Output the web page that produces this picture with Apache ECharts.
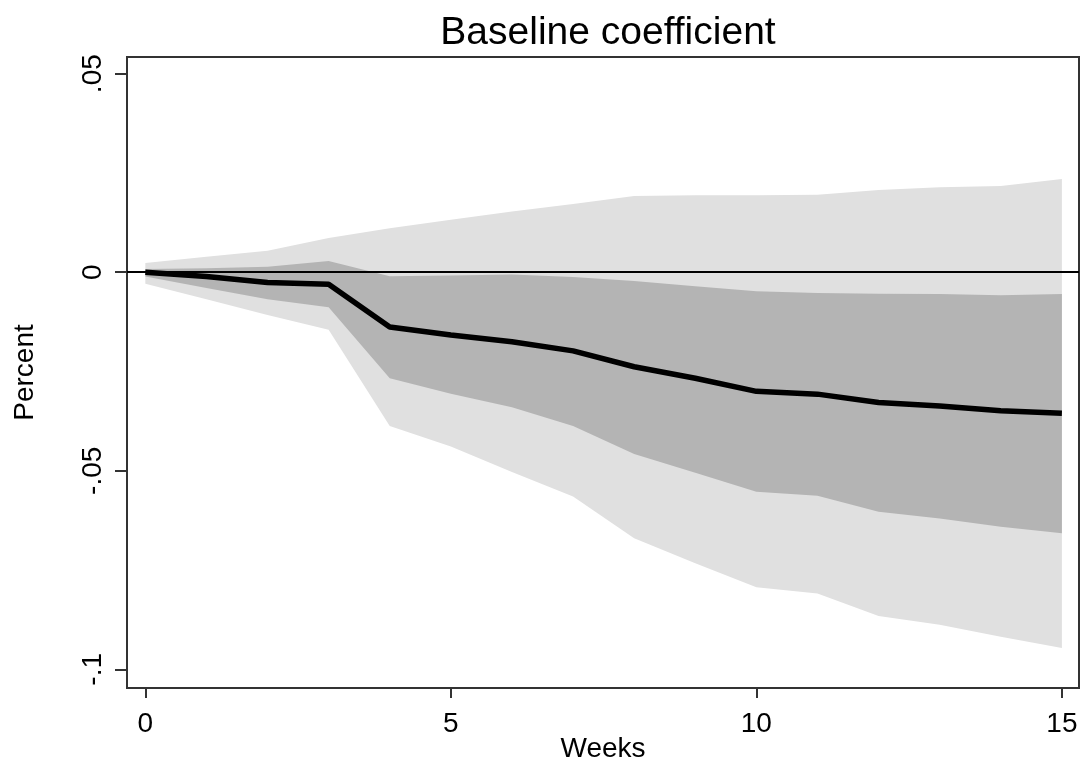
<!DOCTYPE html>
<html>
<head>
<meta charset="utf-8">
<title>Baseline coefficient</title>
<script src="https://cdn.jsdelivr.net/npm/echarts@6/dist/echarts.min.js"></script>
<style>
	html, body { margin: 0; padding: 0; background: #fff; }
	#my_echarts { width: 1083px; height: 765px; }
</style>
</head>
<body>
<div id="my_echarts"></div>
<script>
// 数据
var weeks = [0, 1, 2, 3, 4, 5, 6, 7, 8, 9, 10, 11, 12, 13, 14, 15];
var coef = [0, -0.0011, -0.0026, -0.003, -0.0138, -0.0158, -0.0175, -0.0198, -0.0238, -0.0267, -0.03, -0.0307, -0.0328, -0.0337, -0.0349, -0.0355];
var darkUpper = [0.0008, 0.001, 0.0014, 0.0028, -0.001, -0.0008, -0.0006, -0.0012, -0.0022, -0.0035, -0.0048, -0.0052, -0.0054, -0.0055, -0.0058, -0.0055];
var darkLower = [-0.0011, -0.004, -0.0068, -0.0088, -0.0267, -0.0306, -0.034, -0.0387, -0.0458, -0.0505, -0.0553, -0.0563, -0.0603, -0.062, -0.0641, -0.0657];
var lightUpper = [0.0023, 0.0039, 0.0054, 0.0086, 0.0111, 0.0132, 0.0153, 0.0172, 0.0192, 0.0194, 0.0194, 0.0195, 0.0207, 0.0214, 0.0217, 0.0235];
var lightLower = [-0.0029, -0.0068, -0.0108, -0.0145, -0.0387, -0.0439, -0.0503, -0.0565, -0.067, -0.0733, -0.0793, -0.0809, -0.0866, -0.0888, -0.0918, -0.0946];
var xTicks = [0, 5, 10, 15];
var yTicks = [-0.1, -0.05, 0, 0.05];
var yTickLabels = ['-.1', '-.05', '0', '.05'];

var font = 'Liberation Sans, Arial, sans-serif';
var axisColor = '#333';

/**
 * 置信带: 每周一行 [周, 下界, 上界], 在第一行时画出整个多边形
 * @param {Array} lo	下界
 * @param {Array} hi	上界
 * @param {String} color	填充色
 */
function bandSeries(lo, hi, color) {
	var data = [];
	for (var i = 0; i < weeks.length; i++) {
		data.push([weeks[i], lo[i], hi[i]]);
	}
	return {
		type: 'custom',
		silent: true,
		encode: { x: 0, y: [1, 2] },
		data: data,
		renderItem: function(params, api) {
			if (params.dataIndex !== 0) return;
			var pts = [];
			for (var i = 0; i < weeks.length; i++) {
				pts.push(api.coord([weeks[i], hi[i]]));
			}
			for (var j = weeks.length - 1; j >= 0; j--) {
				pts.push(api.coord([weeks[j], lo[j]]));
			}
			return {
				type: 'polygon',
				shape: { points: pts },
				style: { fill: color }
			};
		}
	};
}

var coefData = [];
for (var i = 0; i < weeks.length; i++) {
	coefData.push([weeks[i], coef[i]]);
}

var myChart = echarts.init(document.getElementById('my_echarts'));

var option = {
	backgroundColor: '#fff',
	animation: false,
	title: {
		text: 'Baseline coefficient',
		left: 603,
		textAlign: 'center',
		top: 9,
		textStyle: { color: '#000', fontSize: 39, fontWeight: 'normal', fontFamily: font }
	},
	grid: {
		left: 127,
		right: 4,
		top: 57,
		bottom: 77,
		containLabel: false,
		outerBoundsMode: 'none',
		show: true,
		borderColor: axisColor,
		borderWidth: 2,
		backgroundColor: '#fff'
	},
	xAxis: {
		type: 'value',
		min: -0.3,
		max: 15.28,
		name: 'Weeks',
		nameLocation: 'middle',
		nameGap: 47,
		nameMoveOverlap: false,
		nameTextStyle: { color: '#000', fontSize: 28, fontFamily: font },
		axisLine: { show: true, onZero: false, lineStyle: { color: axisColor, width: 2 } },
		axisTick: { show: true, length: 10, customValues: xTicks, lineStyle: { color: axisColor, width: 2 } },
		axisLabel: { margin: 22, color: '#000', fontSize: 28, fontFamily: font, customValues: xTicks },
		splitLine: { show: false }
	},
	yAxis: {
		type: 'value',
		min: -0.1047,
		max: 0.0542,
		name: 'Percent',
		nameLocation: 'middle',
		nameGap: 88,
		nameMoveOverlap: false,
		nameTextStyle: { color: '#000', fontSize: 28, fontFamily: font },
		axisLine: { show: true, onZero: false, lineStyle: { color: axisColor, width: 2 } },
		axisTick: { show: true, length: 12, customValues: yTicks, lineStyle: { color: axisColor, width: 2 } },
		axisLabel: {
			margin: 20,
			rotate: 90,
			color: '#000',
			fontSize: 28,
			fontFamily: font,
			customValues: yTicks,
			formatter: function(v) {
				for (var i = 0; i < yTicks.length; i++) {
					if (Math.abs(v - yTicks[i]) < 1e-9) return yTickLabels[i];
				}
				return '';
			}
		},
		splitLine: { show: false }
	},
	series: [
		bandSeries(lightLower, lightUpper, '#e0e0e0'),
		bandSeries(darkLower, darkUpper, '#b4b4b4'),
		// 零线 + 系数线
		{
			type: 'line',
			data: coefData,
			symbol: 'none',
			lineStyle: { color: '#000', width: 5.5 },
			itemStyle: { color: '#000' },
			markLine: {
				silent: true, symbol: 'none', label: { show: false },
				lineStyle: { color: '#000', width: 2, type: 'solid' },
				data: [{ yAxis: 0 }]
			}
		}
	]
};

myChart.setOption(option);
</script>
</body>
</html>
